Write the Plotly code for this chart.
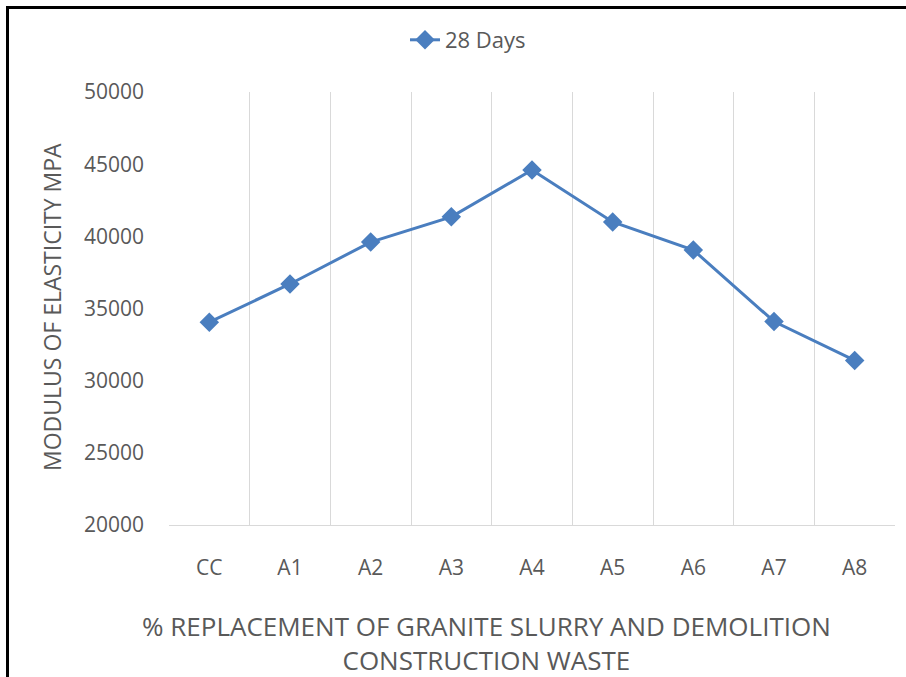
import plotly.graph_objects as go

categories = ["CC", "A1", "A2", "A3", "A4", "A5", "A6", "A7", "A8"]
values_28_days = [34050, 36700, 39600, 41350, 44600, 41000, 39050, 34100, 31400]
y_ticks = [20000, 25000, 30000, 35000, 40000, 45000, 50000]
y_tick_labels = ["20000", "25000", "30000", "35000", "40000", "45000", "50000"]
series_name = "28 Days"
x_title = "% REPLACEMENT OF GRANITE SLURRY AND DEMOLITION<br>CONSTRUCTION WASTE"
y_title = "MODULUS OF ELASTICITY MPA"

W, H = 906, 677
L, R, T, B = 169, 895, 92, 525
pw, ph = R - L, B - T

def px_x(px):
    return (px - L) / pw

def px_y(py):
    return (B - py) / ph

FONT = "Open Sans, sans-serif"
GRAY = "#595959"
BLUE = "#4A7EBF"

fig = go.Figure()
fig.add_trace(go.Scatter(
    x=categories, y=values_28_days, name=series_name,
    mode="lines+markers",
    line=dict(color=BLUE, width=3),
    marker=dict(symbol="diamond", size=15, color=BLUE),
))

border = dict(color="black", width=3)
fig.update_layout(
    width=W, height=H,
    margin=dict(l=L, r=W - R, t=T, b=H - B),
    paper_bgcolor="white", plot_bgcolor="white",
    font=dict(family=FONT, color=GRAY, size=21),
    showlegend=True,
    legend=dict(orientation="h", x=px_x(468), xanchor="center",
                y=px_y(40), yanchor="middle", font=dict(size=22, color=GRAY)),
    xaxis=dict(type="category", tickson="boundaries", showgrid=True,
               gridcolor="#D9D9D9", gridwidth=1, ticks="",
               showline=True, linecolor="#D9D9D9", linewidth=1,
               tickfont=dict(size=21, color=GRAY), ticklabelstandoff=24,
               range=[-0.5, len(categories) - 0.5]),
    yaxis=dict(range=[y_ticks[0], y_ticks[-1]], tickvals=y_ticks, ticktext=y_tick_labels,
               showgrid=False, zeroline=False, showline=False, ticks="",
               tickfont=dict(size=21, color=GRAY), ticklabelstandoff=24),
    annotations=[
        dict(text=x_title, xref="paper", yref="paper",
             x=px_x(486), y=px_y(643), xanchor="center", yanchor="middle",
             showarrow=False, font=dict(size=26, color=GRAY)),
        dict(text=y_title, xref="paper", yref="paper", textangle=-90,
             x=px_x(52), y=px_y(307), xanchor="center", yanchor="middle",
             showarrow=False, font=dict(size=23, color=GRAY)),
    ],
    shapes=[
        dict(type="line", xref="paper", yref="paper",
             x0=px_x(6.5), x1=px_x(W), y0=px_y(7.5), y1=px_y(7.5), line=border, layer="above"),
        dict(type="line", xref="paper", yref="paper",
             x0=px_x(7.5), x1=px_x(7.5), y0=px_y(6), y1=px_y(H), line=border, layer="above"),
    ],
)

fig.write_html("out.html", config={"displayModeBar": False},
               post_script="document.body.style.margin='0';")
